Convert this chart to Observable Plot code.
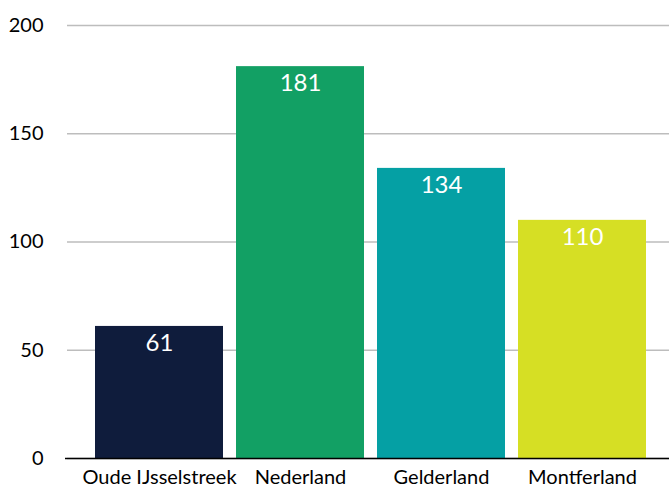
<!DOCTYPE html>
<html>
<head>
<meta charset="utf-8">
<script src="https://cdn.jsdelivr.net/npm/d3@7"></script>
<script src="https://cdn.jsdelivr.net/npm/@observablehq/plot@0.6"></script>
<style>
  html, body { margin: 0; padding: 0; background: #fff; }
  svg { display: block; }
</style>
</head>
<body>
<div id="chart"></div>
<script>
const categories = ["Oude IJsselstreek", "Nederland", "Gelderland", "Montferland"];
const values = [61, 181, 134, 110];
const colors = ["#0f1c3c", "#12a064", "#05a0a4", "#d6df24"];
const yTicks = [0, 50, 100, 150, 200];

const data = categories.map((c, i) => ({category: c, value: values[i], color: colors[i]}));

const font = "Lato, 'Open Sans', sans-serif";

const chart = Plot.plot({
  width: 669,
  height: 489,
  marginLeft: 69,
  marginRight: 0,
  marginTop: 25,
  marginBottom: 31,
  style: {fontFamily: font, fontSize: "20px", color: "#000", background: "#fff"},
  x: {domain: categories, paddingInner: 0.0915, paddingOuter: 0.1585, align: 0.53, label: null},
  y: {domain: [0, 200], ticks: yTicks, label: null},
  marks: [
    Plot.ruleY(yTicks, {stroke: "#bdbdbd", strokeWidth: 1.5, insetLeft: -2}),
    Plot.barY(data, {x: "category", y: "value", fill: "color"}),
    Plot.ruleY([0], {stroke: "#000", strokeWidth: 1.5, insetLeft: -4}),
    Plot.text(data, {x: "category", y: "value", text: d => String(d.value), fill: "#fff", dy: 17, fontSize: 24, fontFamily: font}),
    Plot.axisY({ticks: yTicks, tickSize: 0, tickPadding: 26, fontSize: 20, label: null}),
    Plot.axisX({tickSize: 0, tickPadding: 11, fontSize: 20, label: null})
  ]
});
document.getElementById("chart").appendChild(chart);
</script>
</body>
</html>
